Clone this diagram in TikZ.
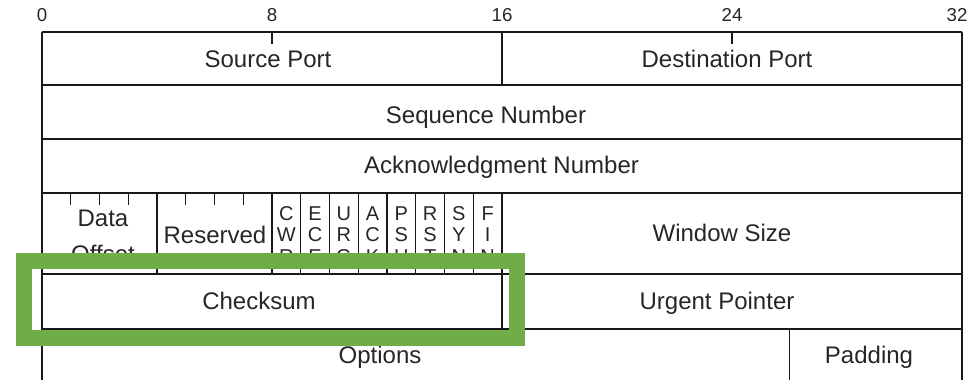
\documentclass[tikz,border=0pt]{standalone}
\usepackage{fontspec}
\setmainfont{Liberation Sans}
\definecolor{hlgreen}{RGB}{112,173,71}
\tikzset{
  rule/.style={line width=1pt, color=black!90},
  fieldtxt/.style={font=\fontsize{18}{20.3}\selectfont, text=black!85, inner sep=0pt, anchor=base},
  bittxt/.style={font=\fontsize{14}{16}\selectfont, text=black!85, inner sep=0pt, anchor=base},
  flagtxt/.style={font=\fontsize{15}{16.3}\selectfont, text=black!85, inner sep=0pt, align=center},
  highlight/.style={draw=hlgreen, line width=12pt},
}
\begin{document}
\begin{tikzpicture}[x=0.75pt,y=0.75pt,yscale=-1,xscale=1]
\useasboundingbox (0,0) rectangle (978,380);
\clip (0,0) rectangle (978,380);

%Bit numbers
\foreach \b/\xx in {0/42,8/272,16/502,24/732,32/957}
  \node[bittxt] (bit\b) at (\xx,21) {\b};

%Row lines
\foreach \yy in {32,85,139,193,274,329}
  \draw[rule] (42,\yy) -- (962,\yy);
\draw[rule] (42,32) -- (42,380);
\draw[rule] (962,32) -- (962,380);

%Ticks on top edge
\draw[rule] (272,32) -- (272,44);
\draw[rule] (732,32) -- (732,44);
%16 bit split
\draw[rule] (502,32) -- (502,85);
\draw[rule] (502,274) -- (502,329);
%Flag row
\foreach \n in {4,8,9,...,16}
  \draw[rule] ({42+28.75*\n},193) -- ({42+28.75*\n},274);
\foreach \n in {1,2,3,5,6,7}
  \draw[rule] ({42+28.75*\n},193) -- ({42+28.75*\n},205);
%Padding split
\draw[rule] (789.5,329) -- (789.5,380);

%Fields
\node[fieldtxt] (srcport) at (268,67.5) {Source Port};
\node[fieldtxt] (dstport) at (727,67.5) {Destination Port};
\node[fieldtxt] (seqnum) at (486,123) {Sequence Number};
\node[fieldtxt] (acknum) at (501.5,173) {Acknowledgment Number};
\node[flagtxt, font=\fontsize{18}{27}\selectfont] (dataoff) at (103,236) {Data\\Offset};
\node[fieldtxt] (resvd) at (215,243) {Reserved};
\foreach \n/\f in {8/C\\W\\R,9/E\\C\\E,10/U\\R\\G,11/A\\C\\K,12/P\\S\\H,13/R\\S\\T,14/S\\Y\\N,15/F\\I\\N}
  \node[flagtxt] (flag\n) at ({42+28.75*(\n+0.5)},235) {\f};
\node[fieldtxt] (winsize) at (722,241.5) {Window Size};
\node[fieldtxt] (chksum) at (259,309) {Checksum};
\node[fieldtxt] (urgptr) at (717,309) {Urgent Pointer};
\node[fieldtxt] (options) at (380,363) {Options};
\node[fieldtxt] (padding) at (869,363) {Padding};

%Highlight box
\draw[highlight] (23.5,261.3) rectangle (517,338);
\end{tikzpicture}
\end{document}
